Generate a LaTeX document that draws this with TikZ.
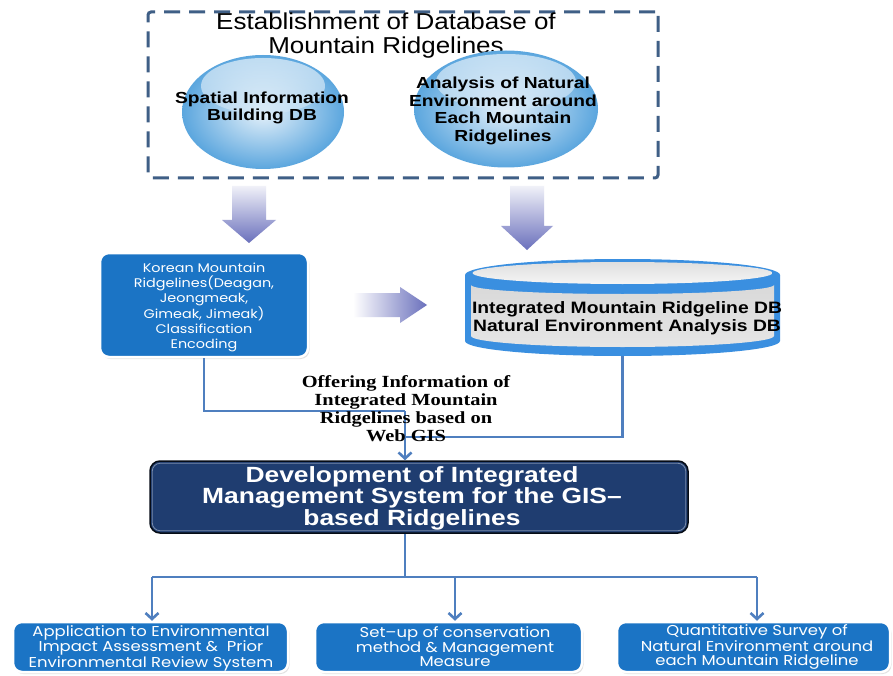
\documentclass[tikz,border=0pt]{standalone}
\usepackage{fontspec}
\setmainfont{Liberation Sans}
\newfontfamily\arialS[FakeStretch=1.13]{Liberation Sans}
\newfontfamily\arialC[FakeStretch=1.2]{Liberation Sans}
\newfontfamily\arialY[FakeStretch=1.17]{Liberation Sans}
\newfontfamily\arialD[FakeStretch=1.2]{Liberation Sans}
\newfontfamily\gothic[FakeStretch=1.15]{Poppins}
\newfontfamily\serifS[FakeStretch=1.2]{Liberation Serif}
\usetikzlibrary{arrows.meta,shadows,shapes.geometric}
\definecolor{dashc}{HTML}{3F5F86}
\definecolor{connc}{HTML}{4F7FBF}
\definecolor{boxblue}{HTML}{1B74C5}
\definecolor{navy}{HTML}{1F3D70}
\definecolor{arrowc}{HTML}{6A70BC}
\definecolor{cylblue}{HTML}{3A8FE0}
\definecolor{circblue}{HTML}{5BA6DE}
\begin{document}
\begin{tikzpicture}[x=1pt,y=-1pt,
  conn/.style={draw=connc, line width=2.6pt},
  arr/.style={-{Straight Barb[length=6pt,width=13pt]}},
  bluebox/.style={rectangle, rounded corners=9pt, fill=boxblue, draw=white, line width=2.5pt,
     drop shadow={shadow xshift=1.5pt, shadow yshift=-2pt, fill=gray!45}, inner sep=0pt},
  whitetext/.style={text=white, align=center, font=\gothic\fontsize{14.3}{14.5}\selectfont},
  circ/.style={ellipse, inner sep=0pt, inner color=white!85!circblue, outer color=circblue},
  circtext/.style={align=center, font=\arialC\bfseries\fontsize{16}{17.5}\selectfont},
  blockarrow/.style={top color=white!90!arrowc, bottom color=arrowc},
]
\useasboundingbox (0,0) rectangle (893,676);
\fill[white] (0,0) rectangle (893,676);

% Establishment box
\node[rectangle, draw=dashc, line width=3pt, dash pattern=on 16pt off 9pt, rounded corners=3pt,
      minimum width=510pt, minimum height=166pt] (estab) at (403,95) {};
\node[align=center, font=\arialS\fontsize{23}{24}\selectfont] (title) at (386,36)
  {Establishment of Database of\\Mountain Ridgelines};

% circles
\node[circ, minimum width=162pt, minimum height=114pt] (c1) at (263,112) {};
\node[circ, minimum width=184pt, minimum height=117pt] (c2) at (506,109) {};
\shade[top color=white, bottom color=white!70!circblue, opacity=0.6] (263,86) ellipse [x radius=62, y radius=28];
\shade[top color=white, bottom color=white!70!circblue, opacity=0.6] (506,82) ellipse [x radius=70, y radius=28];
\node[circtext] (c1t) at (262,108) {Spatial Information\\Building DB};
\node[circtext] (c2t) at (503,111) {Analysis of Natural\\Environment around\\Each Mountain\\Ridgelines};

% block arrows
\shade[blockarrow] (232,186) -- (266,186) -- (266,220) -- (276,220) -- (249,243) -- (222,220) -- (232,220) -- cycle;
\shade[blockarrow] (510,186) -- (544,186) -- (544,226) -- (553,226) -- (527,250) -- (501,226) -- (510,226) -- cycle;
\shade[left color=white, right color=arrowc] (353,293) -- (400,293) -- (400,287) -- (427,305) -- (400,323) -- (400,317) -- (353,317) -- cycle;

% Korean box
\node[bluebox, minimum width=208pt, minimum height=104pt] (kor) at (204,305) {};
\node[whitetext, font=\gothic\fontsize{12.5}{15}\selectfont] (kort) at (204,307) {Korean Mountain\\Ridgelines(Deagan,\\Jeongmeak,\\Gimeak, Jimeak)\\Classification\\Encoding};

% cylinder
\node[rectangle, minimum width=315pt, minimum height=96pt, inner sep=0pt] (cyl) at (622.5,308) {};
\fill[cylblue] (465,275) -- (465,341) arc[start angle=180, end angle=0, x radius=157.5, y radius=15] -- (780,275) -- cycle;
\shade[top color=gray!30, middle color=white, bottom color=gray!20]
  (471,285) arc[start angle=180, end angle=0, x radius=151.5, y radius=9] -- (774,336)
  arc[start angle=0, end angle=180, x radius=151.5, y radius=11] -- cycle;
\fill[cylblue] (622.5,275) ellipse [x radius=157.5, y radius=16];
\shade[top color=gray!25, bottom color=white!92!gray] (622.5,273) ellipse [x radius=150, y radius=11];
\node[align=center, font=\arialY\bfseries\fontsize{16.5}{18}\selectfont] (cylt) at (627,318)
  {Integrated Mountain Ridgeline DB\\Natural Environment Analysis DB};

% connectors to development box
\coordinate (j1) at (405,411);
\coordinate (j2) at (405,437);
\draw[conn] (kor.south) |- (j1);
\draw[conn] (cyl.south) |- (j2);

% development box
\node[rectangle, rounded corners=10pt, fill=navy, draw=black!80!navy, line width=1.5pt,
      minimum width=538pt, minimum height=72pt] (dev) at (419,497) {};
\draw[white!40!navy, line width=0.8pt, rounded corners=8pt]
  ([shift={(3,3)}]dev.north west) rectangle ([shift={(-3,-3)}]dev.south east);
\draw[conn,arr] (j1) -- (j1 |- dev.north);
\node[text=white, align=center, font=\arialD\bfseries\fontsize{22}{20.5}\selectfont] (devt) at (412,498)
  {Development of Integrated\\Management System for the GIS–\\based Ridgelines};

\node[align=center, font=\serifS\bfseries\fontsize{17}{18}\selectfont] (offer) at (406,409)
  {Offering Information of\\Integrated Mountain\\Ridgelines based on\\Web GIS};

% bottom boxes
\node[bluebox, minimum width=275pt, minimum height=50pt] (b1) at (150.5,647) {};
\node[bluebox, minimum width=267pt, minimum height=50pt] (b2) at (448.5,647) {};
\node[bluebox, minimum width=273pt, minimum height=50pt] (b3) at (753.5,647) {};
\node[whitetext] (b1t) at (151,648)
  {Application to Environmental\\Impact Assessment \&~ Prior\\Environmental Review System};
\node[whitetext] (b2t) at (455,647) {Set–up of conservation\\method \& Management\\Measure};
\node[whitetext] (b3t) at (757,647) {Quantitative Survey of\\Natural Environment around\\each Mountain Ridgeline};

\coordinate (h) at (405,577);
\coordinate (hl) at (152,577);
\coordinate (hm) at (455,577);
\coordinate (hr) at (757,577);
\draw[conn] (dev.south -| h) -- (h);
\draw[conn] (hl) -- (hr);
\draw[conn,arr] (hl) -- (hl |- b1.north);
\draw[conn,arr] (hm) -- (hm |- b2.north);
\draw[conn,arr] (hr) -- (hr |- b3.north);
\end{tikzpicture}
\end{document}
